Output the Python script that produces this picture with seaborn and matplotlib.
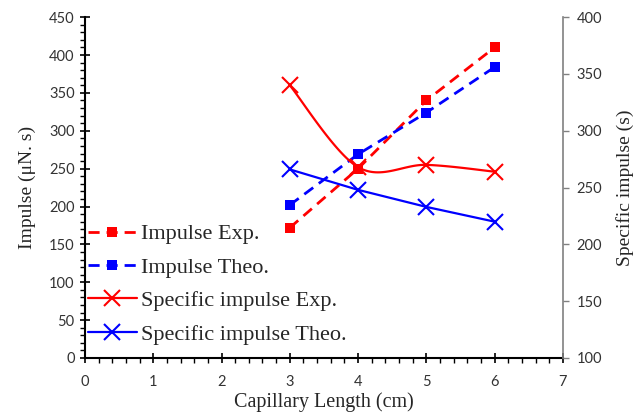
import numpy as np
import pandas as pd
import matplotlib
matplotlib.use("Agg")
import matplotlib.pyplot as plt
from matplotlib.lines import Line2D
from matplotlib.ticker import MultipleLocator
import seaborn as sns

# ---- data ----
length_cm = [3, 4, 5, 6]
impulse_exp = [172, 250, 340, 410]
impulse_theo = [202, 269, 324, 384]
isp_exp = [340, 268, 270, 264]
isp_theo = [266, 248, 233, 220]

sns.set_theme(style="white")
plt.rcParams['font.family'] = ['Liberation Serif', 'DejaVu Sans']

RED = "#FF0000"
BLUE = "#0000FF"

fig = plt.figure(figsize=(6.44, 4.19), dpi=100)
ax = fig.add_axes([0.132, 0.1456, 0.742, 0.8134])
ax2 = ax.twinx()

df = pd.DataFrame({"L": length_cm, "ie": impulse_exp, "it": impulse_theo,
                   "se": isp_exp, "st": isp_theo})

# Impulse (left axis)
sns.lineplot(data=df, x="L", y="ie", ax=ax, color=RED, lw=2.0,
             marker="s", markersize=7.5, markeredgewidth=0, dashes=False)
sns.lineplot(data=df, x="L", y="it", ax=ax, color=BLUE, lw=2.0,
             marker="s", markersize=7.5, markeredgewidth=0, dashes=False)
for ln in ax.lines:
    ln.set_dashes([4, 2.5])

# Specific impulse (right axis)
def smooth(xs, ys, n=40):
    P = np.column_stack([xs, ys]).astype(float)
    P = np.vstack([P[0], P, P[-1]])
    out = []
    for i in range(1, len(P) - 2):
        p0, p1, p2, p3 = P[i - 1], P[i], P[i + 1], P[i + 2]
        c1 = p1 + (p2 - p0) / 6.0
        c2 = p2 - (p3 - p1) / 6.0
        t = np.linspace(0, 1, n)[:, None]
        seg = (1 - t) ** 3 * p1 + 3 * (1 - t) ** 2 * t * c1 + 3 * (1 - t) * t ** 2 * c2 + t ** 3 * p2
        out.append(seg)
    out = np.vstack(out)
    return out[:, 0], out[:, 1]

sx, sy = smooth(length_cm, isp_exp)
sns.lineplot(x=sx, y=sy, ax=ax2, color=RED, lw=1.6, sort=False, estimator=None)
sns.lineplot(x=length_cm, y=isp_exp, ax=ax2, color=RED, lw=0, marker="x",
             markersize=12, markeredgewidth=1.5, markeredgecolor=RED)
sns.lineplot(x=length_cm, y=isp_theo, ax=ax2, color=BLUE, lw=1.6, marker="x",
             markersize=12, markeredgewidth=1.5, markeredgecolor=BLUE)

# axes limits / ticks
ax.set_xlim(0, 7)
ax.set_ylim(0, 450)
ax2.set_ylim(100, 400)
ax.xaxis.set_major_locator(MultipleLocator(1))
ax.xaxis.set_minor_locator(MultipleLocator(0.2))
ax.yaxis.set_major_locator(MultipleLocator(50))
ax.yaxis.set_minor_locator(MultipleLocator(10))
ax2.yaxis.set_major_locator(MultipleLocator(50))

tickfont = "Lato"
for lab in ax.get_xticklabels() + ax.get_yticklabels() + ax2.get_yticklabels():
    lab.set_fontfamily(tickfont)
    lab.set_fontsize(10.5)
    lab.set_color("#333333")

ax.tick_params(axis="both", which="major", direction="inout", length=7, width=1.2,
               color="black", bottom=True, left=True, pad=4)
ax.tick_params(axis="x", which="major", pad=9)
ax.tick_params(axis="both", which="minor", direction="out", length=3.5, width=1.0,
               color="black", bottom=True, left=True)
ax2.tick_params(axis="y", which="major", direction="out", length=4, width=1.0,
                color="#808080", right=True, pad=6)

for s in ["left", "bottom"]:
    ax.spines[s].set_color("black")
    ax.spines[s].set_linewidth(1.5)
ax.spines["top"].set_visible(False)
ax2.spines["top"].set_visible(False)
ax.spines["right"].set_visible(False)
ax2.spines["left"].set_visible(False)
ax2.spines["bottom"].set_visible(False)
ax2.spines["right"].set_color("#808080")
ax2.spines["right"].set_linewidth(1.2)

ax.set_xlabel("Capillary Length (cm)", fontsize=14.5, labelpad=2)
ax.set_ylabel("Impulse (\u03bcN. s)", fontsize=14, labelpad=9)
ax2.set_ylabel("Specific impulse (s)", fontsize=14, labelpad=10)
ax.grid(False)
ax2.grid(False)

handles = [
    Line2D([], [], color=RED, lw=2.0, dashes=[4, 2.5], marker="s", markersize=7.5, markeredgewidth=0),
    Line2D([], [], color=BLUE, lw=2.0, dashes=[4, 2.5], marker="s", markersize=7.5, markeredgewidth=0),
    Line2D([], [], color=RED, lw=1.6, marker="x", markersize=12, markeredgewidth=1.5),
    Line2D([], [], color=BLUE, lw=1.6, marker="x", markersize=12, markeredgewidth=1.5),
]
labels = ["Impulse Exp.", "Impulse Theo.", "Specific impulse Exp.", "Specific impulse Theo."]
leg = ax2.legend(handles, labels, loc="lower left", bbox_to_anchor=(-0.022, 0.0),
                 frameon=False, fontsize=16, handlelength=2.2, handletextpad=0.2,
                 labelspacing=0.58, borderaxespad=0.2)

fig.savefig("out.png", dpi=100)
